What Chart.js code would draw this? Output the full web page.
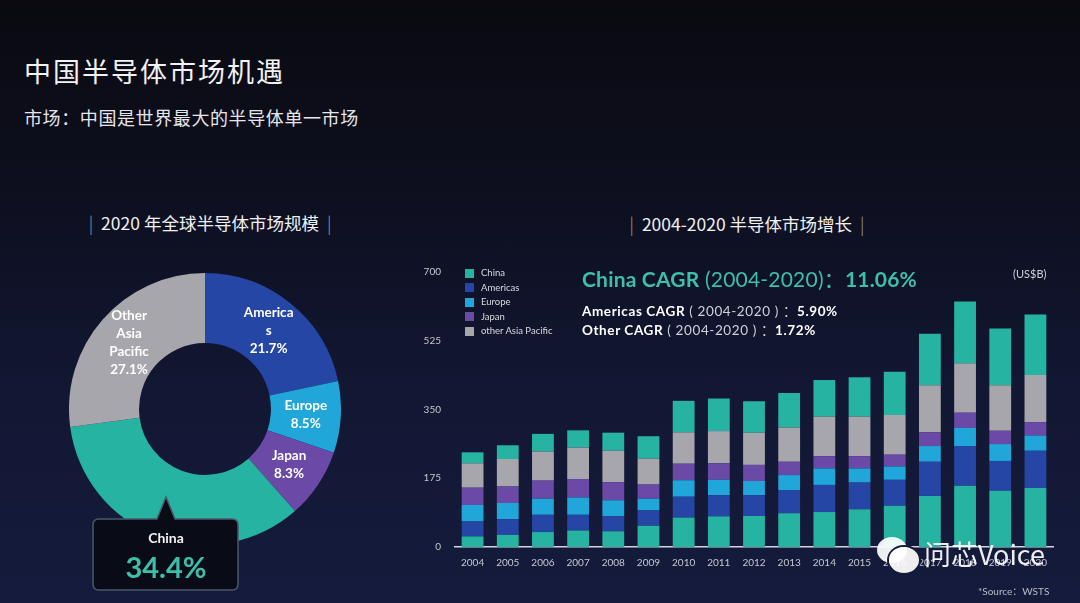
<!DOCTYPE html>
<html>
<head>
<meta charset="utf-8">
<script src="https://cdn.jsdelivr.net/npm/chart.js@4.4.0/dist/chart.umd.min.js"></script>
<style>
html, body { margin: 0; padding: 0; }
body {
    width: 1080px; height: 603px; overflow: hidden; position: relative;
    background: linear-gradient(180deg, #0a0a10 0%, #0d0f1e 30%, #121733 65%, #151b3c 100%);
    font-family: "Lato", "Noto Sans CJK SC", sans-serif; color: #fff;
}
.abs { position: absolute; white-space: nowrap; }
.cjk { font-family: "Noto Sans CJK SC", sans-serif; }
#title { left: 24px; top: 56px; font-size: 27px; line-height: 30px; letter-spacing: 2px; color: #f2f2f4; }
#subtitle { left: 24px; top: 106px; font-size: 18px; line-height: 22px; letter-spacing: 0.6px; color: #e6e6ea; }
.sec { font-size: 17.5px; line-height: 22px; text-align: center; color: #f0f0f3; }
.sec .bar { color: #9aa0ae; font-weight: 300; margin: 0 8px; }
#pieCanvas { position: absolute; left: 69px; top: 273px; }
#barCanvas { position: absolute; left: 410px; top: 252px; }
#legend { left: 465px; top: 266px; font-size: 9.5px; color: #d8dae2; }
#legend .row { height: 14.5px; line-height: 14.5px; display: flex; align-items: center; }
#legend .sw { width: 9px; height: 9px; margin-right: 7px; }
#cagr1 { left: 582px; top: 266px; font-size: 21px; line-height: 26px; color: #3cbfab; letter-spacing: 0.2px; }
#cagr1 b, #cagr2 b, #cagr3 b { font-weight: 700; }
#cagr2, #cagr3 { left: 582px; font-size: 13.5px; line-height: 18px; color: #cfd1da; letter-spacing: 0.6px; }
#cagr2 { top: 302px; }
#cagr3 { top: 321px; }
#cagr2 b, #cagr3 b { color: #fff; }
#unit { left: 1013px; top: 267px; font-size: 11px; color: #d0d2da; }
#source { left: 978px; top: 583px; font-size: 10px; color: #b8bcc8; }
#callout { position: absolute; left: 90px; top: 494px; }
#calloutName { left: 90px; width: 152px; top: 529px; text-align: center; font-size: 14px; font-weight: 700; color: #f4f4f6; }
#calloutVal { left: 90px; width: 152px; top: 550px; text-align: center; font-size: 29px; line-height: 34px; font-weight: 700; color: #3dbfa9; }
#wm { left: 924px; top: 538px; font-size: 27px; line-height: 32px; color: rgba(255,255,255,0.92); }
.bub { position: absolute; background: rgba(255,255,255,0.93); border-radius: 50%; }
</style>
</head>
<body>
<div id="title" class="abs cjk">中国半导体市场机遇</div>
<div id="subtitle" class="abs cjk">市场：中国是世界最大的半导体单一市场</div>
<div class="abs sec cjk" style="left:60px;width:300px;top:212px;"><span class="bar">|</span>2020 年全球半导体市场规模<span class="bar">|</span></div>
<div class="abs sec cjk" style="left:597px;width:300px;top:213px;"><span class="bar">|</span>2004-2020 半导体市场增长<span class="bar">|</span></div>

<canvas id="pieCanvas" width="272" height="272"></canvas>
<canvas id="barCanvas" width="650" height="330"></canvas>

<div id="legend" class="abs"></div>
<div id="cagr1" class="abs"><b>China CAGR</b> (2004-2020)：<b>11.06%</b></div>
<div id="cagr2" class="abs"><b>Americas CAGR</b> ( 2004-2020 ) ：<b>5.90%</b></div>
<div id="cagr3" class="abs"><b>Other CAGR</b> ( 2004-2020 ) ：<b>1.72%</b></div>
<div id="unit" class="abs">(US$B)</div>

<svg id="callout" width="152" height="100">
  <path d="M 9 25 L 67 25 L 76 3 L 85 25 L 142 25 Q 148 25 148 31 L 148 90 Q 148 96 142 96 L 9 96 Q 3 96 3 90 L 3 31 Q 3 25 9 25 Z"
        fill="#090b16" stroke="#4b5868" stroke-width="1.5"/>
</svg>
<div id="calloutName" class="abs"></div>
<div id="calloutVal" class="abs"></div>

<div class="bub" style="left:877px;top:537px;width:30px;height:26px;"></div>
<div class="bub" style="left:889px;top:547px;width:30px;height:26px;box-shadow:0 0 0 2px #141a38;"></div>
<div id="wm" class="abs cjk">问芯Voice</div>
<div id="source" class="abs">*Source：WSTS</div>

<script>
// 2020 market share (donut)
const donutCats = ['Americas', 'Europe', 'Japan', 'China', 'Other Asia Pacific'];
const donutShares = [21.7, 8.5, 8.3, 34.4, 27.1];
const donutLabelLines = [['America', 's'], ['Europe'], ['Japan'], ['China'], ['Other', 'Asia', 'Pacific']];

// 2004-2020 market size, US$B (stacked bars, bottom to top)
const years = ['2004', '2005', '2006', '2007', '2008', '2009', '2010', '2011', '2012',
               '2013', '2014', '2015', '2016', '2017', '2018', '2019', '2020'];
const chinaVals    = [27, 31, 38, 42, 40, 54, 75, 78, 79, 86, 89, 96, 105, 130, 156, 143, 150];
const americasVals = [38, 40, 44, 40, 38, 39, 53, 54, 53, 59, 69, 68, 66, 87, 101, 76, 95];
const europeVals   = [42, 41, 41, 44, 41, 30, 42, 39, 36, 38, 42, 36, 34, 40, 46, 43, 39];
const japanVals    = [44, 42, 46, 47, 46, 36, 42, 42, 41, 34, 31, 31, 30, 35, 39, 34, 34];
const otherApVals  = [62, 70, 74, 80, 80, 66, 80, 82, 82, 87, 101, 101, 101, 120, 126, 116, 120];
const chinaTopVals = [28, 35, 45, 44, 46, 57, 80, 83, 80, 88, 93, 100, 110, 131, 157, 144, 154];
const yTicks = [0, 175, 350, 525, 700];

const COLORS = {
    china: '#27b3a1',
    americas: '#2646a6',
    europe: '#21a6d9',
    japan: '#6a4aa6',
    other: '#a6a6ac'
};

// donut labels drawn at each arc's centre point
const sliceLabels = {
    id: 'sliceLabels',
    afterDatasetsDraw(chart) {
        const ctx = chart.ctx;
        const meta = chart.getDatasetMeta(0);
        ctx.save();
        ctx.fillStyle = '#ffffff';
        ctx.font = 'bold 13.5px Lato, sans-serif';
        ctx.textAlign = 'center';
        ctx.textBaseline = 'middle';
        meta.data.forEach((arc, i) => {
            if (donutCats[i] === 'China') return;
            const p = arc.tooltipPosition();
            const lines = donutLabelLines[i].concat([donutShares[i].toFixed(1) + '%']);
            const lh = 18;
            const y0 = p.y - (lines.length - 1) * lh / 2;
            lines.forEach((t, k) => ctx.fillText(t, p.x, y0 + k * lh));
        });
        ctx.restore();
    }
};

new Chart(document.getElementById('pieCanvas'), {
    type: 'doughnut',
    data: {
        labels: donutCats,
        datasets: [{
            data: donutShares,
            backgroundColor: [COLORS.americas, COLORS.europe, COLORS.japan, COLORS.china, COLORS.other],
            borderWidth: 0
        }]
    },
    options: {
        responsive: false,
        animation: false,
        cutout: '48.5%',
        plugins: { legend: { display: false }, tooltip: { enabled: false } }
    },
    plugins: [sliceLabels]
});

const chinaIdx = donutCats.indexOf('China');
document.getElementById('calloutName').textContent = donutCats[chinaIdx];
document.getElementById('calloutVal').textContent = donutShares[chinaIdx].toFixed(1) + '%';

const barSets = [
    { label: 'China', data: chinaVals, backgroundColor: COLORS.china },
    { label: 'Americas', data: americasVals, backgroundColor: COLORS.americas },
    { label: 'Europe', data: europeVals, backgroundColor: COLORS.europe },
    { label: 'Japan', data: japanVals, backgroundColor: COLORS.japan },
    { label: 'other Asia Pacific', data: otherApVals, backgroundColor: COLORS.other },
    { label: 'China', data: chinaTopVals, backgroundColor: COLORS.china, noLegend: true }
];

new Chart(document.getElementById('barCanvas'), {
    type: 'bar',
    data: {
        labels: years,
        datasets: barSets.map(d => ({
            label: d.label,
            data: d.data,
            backgroundColor: d.backgroundColor,
            borderWidth: 0,
            barPercentage: 0.62,
            categoryPercentage: 1
        }))
    },
    options: {
        responsive: false,
        animation: false,
        layout: { padding: { top: 0, right: 7, left: 0, bottom: 0 } },
        plugins: { legend: { display: false }, tooltip: { enabled: false } },
        scales: {
            x: {
                stacked: true,
                grid: { display: false, drawTicks: false },
                border: { display: true, color: '#d3d6de', width: 1.5 },
                ticks: { color: '#c5c8d2', font: { size: 10, family: 'Lato' }, padding: 10, maxRotation: 0, autoSkip: false },
                afterFit(s) { s.height = 35; }
            },
            y: {
                stacked: true,
                min: 0,
                max: 700,
                grid: { display: false, drawTicks: false },
                border: { display: false },
                afterBuildTicks(s) { s.ticks = yTicks.map(v => ({ value: v })); },
                ticks: { color: '#c5c8d2', font: { size: 10, family: 'Lato' }, padding: 14 },
                afterFit(s) { s.width = 45; }
            }
        }
    }
});

// html legend from the same series
const legend = document.getElementById('legend');
barSets.filter(d => !d.noLegend).forEach(d => {
    const row = document.createElement('div');
    row.className = 'row';
    row.innerHTML = `<span class="sw" style="background:${d.backgroundColor}"></span>${d.label}`;
    legend.appendChild(row);
});
</script>
</body>
</html>
